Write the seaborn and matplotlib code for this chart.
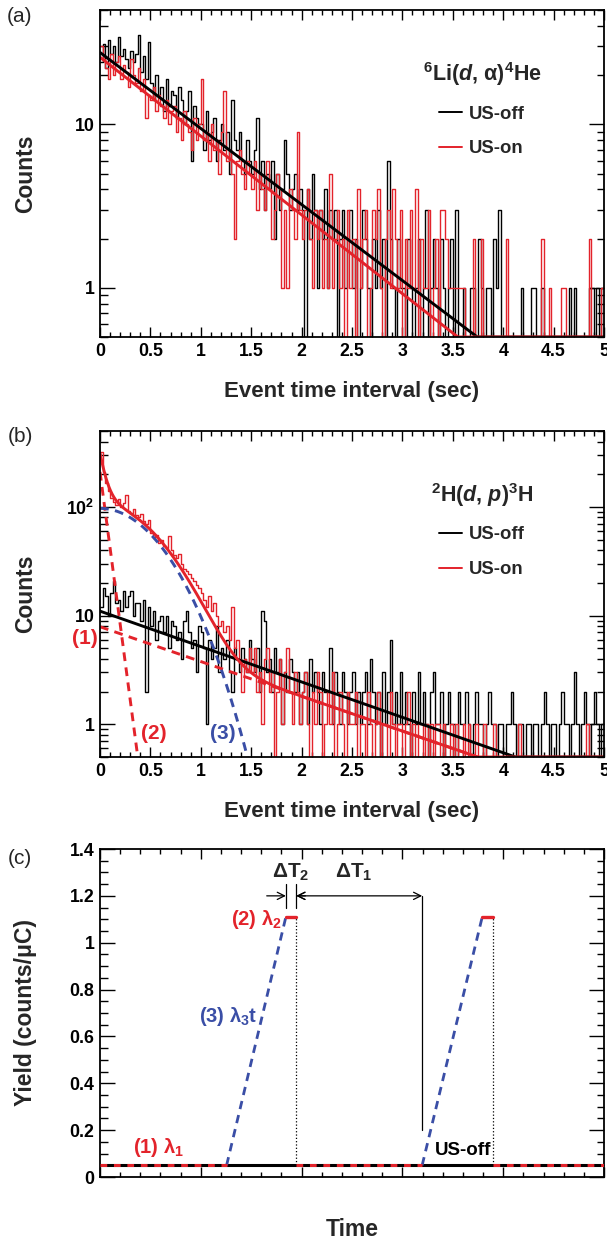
import numpy as np
import pandas as pd
import matplotlib
matplotlib.use("Agg")
import matplotlib.pyplot as plt
import seaborn as sns
from matplotlib.lines import Line2D
from matplotlib.ticker import MultipleLocator, LogLocator, FuncFormatter, NullFormatter

# ---------------- data ----------------
bin_width = 0.025
bin_edges = [round(i * bin_width, 4) for i in range(201)]

# panel (a) 6Li(d,alpha)4He, counts per bin
a_off = [
    24, 31, 22, 33, 27, 30, 24, 34, 26, 29, 25, 22, 28, 24, 27, 35, 21, 26, 19, 32,
    18, 14, 20, 15, 17, 12, 19, 13, 16, 15, 11, 17, 14, 10, 12, 16, 6, 13, 11, 10,
    10, 7, 12, 8, 9, 11, 6, 8, 10, 7, 9, 5, 14, 8, 7, 9, 6, 5, 8, 6,
    5, 7, 11, 4, 6, 3, 5, 4, 6, 2, 5, 3, 4, 8, 5, 3, 4, 5, 3, 4,
    3, 0, 4, 2, 5, 3, 1, 3, 2, 4, 1, 3, 2, 3, 0, 2, 3, 1, 2, 3,
    1, 2, 0, 1, 3, 2, 1, 0, 2, 1, 3, 1, 2, 0, 6, 2, 1, 0, 2, 1,
    1, 0, 2, 1, 0, 1, 2, 0, 1, 3, 0, 1, 2, 1, 0, 2, 1, 0, 1, 2,
    0, 3, 0, 0, 1, 0, 0, 1, 1, 0, 2, 1, 0, 1, 1, 0, 2, 1, 3, 0,
    0, 0, 0, 0, 0, 0, 0, 1, 0, 0, 0, 1, 1, 0, 0, 1, 0, 0, 0, 0,
    0, 0, 0, 0, 0, 0, 1, 0, 1, 0, 0, 0, 0, 0, 1, 1, 0, 1, 0, 1,
]
a_on = [
    30, 25, 22, 19, 27, 20, 24, 26, 19, 23, 21, 17, 25, 20, 18, 22, 16, 19, 11, 15,
    14, 17, 12, 15, 13, 11, 14, 10, 12, 13, 9, 11, 8, 12, 10, 9, 7, 11, 8, 10,
    19, 8, 9, 6, 10, 7, 8, 5, 9, 16, 6, 7, 5, 2, 6, 7, 5, 4, 6, 5,
    4, 6, 3, 5, 4, 3, 6, 4, 2, 3, 5, 4, 1, 3, 1, 4, 3, 2, 9, 3,
    2, 3, 4, 2, 1, 3, 2, 3, 1, 2, 1, 5, 1, 2, 3, 1, 2, 0, 3, 1,
    2, 0, 4, 1, 2, 3, 0, 1, 3, 2, 4, 1, 0, 2, 3, 1, 4, 2, 1, 3,
    0, 2, 1, 3, 1, 4, 0, 2, 1, 1, 3, 0, 1, 2, 0, 3, 3, 2, 1, 1,
    1, 1, 1, 1, 1, 0, 0, 0, 2, 0, 0, 2, 0, 0, 0, 0, 0, 0, 0, 0,
    0, 2, 0, 0, 0, 0, 0, 0, 0, 0, 0, 0, 0, 0, 0, 2, 0, 0, 1, 0,
    0, 0, 0, 1, 1, 0, 0, 0, 0, 0, 0, 0, 0, 0, 2, 0, 0, 0, 0, 1,
]
# panel (b) 2H(d,p)3H
b_off = [
    12, 18, 15, 10, 16, 21, 13, 14, 11, 17, 12, 15, 17, 10, 13, 13, 9, 14, 2, 12,
    8, 11, 6, 9, 10, 7, 10, 5, 9, 8, 6, 7, 4, 9, 11, 7, 5, 6, 3, 8,
    7, 5, 1, 6, 4, 5, 8, 3, 5, 4, 6, 3, 2, 5, 4, 3, 5, 4, 3, 6,
    4, 3, 5, 2, 11, 9, 3, 4, 2, 5, 3, 4, 1, 3, 2, 4, 3, 2, 3, 1,
    2, 3, 1, 4, 2, 3, 2, 1, 3, 2, 2, 5, 1, 3, 2, 1, 3, 2, 1, 2,
    3, 1, 2, 1, 2, 3, 1, 4, 2, 1, 2, 0, 3, 1, 2, 6, 1, 2, 1, 3,
    1, 2, 1, 0, 2, 1, 3, 1, 2, 1, 0, 2, 3, 1, 1, 2, 0, 1, 2, 1,
    1, 0, 2, 1, 1, 2, 1, 0, 1, 2, 1, 1, 0, 1, 2, 1, 1, 0, 1, 1,
    0, 1, 1, 2, 1, 0, 1, 1, 0, 1, 1, 0, 1, 1, 0, 1, 2, 1, 0, 1,
    1, 0, 1, 2, 1, 1, 0, 1, 3, 1, 0, 1, 2, 1, 0, 1, 2, 1, 0, 1,
]
b_on = [
    320, 210, 165, 140, 122, 112, 105, 118, 100, 108, 128, 92, 88, 96, 84, 80, 86, 74, 70, 76,
    58, 52, 55, 47, 50, 44, 42, 54, 40, 36, 34, 37, 30, 27, 26, 24, 22, 21, 19, 18,
    16, 14, 12, 15, 11, 13, 10, 8, 9, 7, 8, 6, 12, 5, 6, 4, 2, 4, 3, 5,
    3, 5, 2, 3, 1, 4, 5, 2, 3, 0, 2, 4, 1, 3, 5, 2, 1, 3, 2, 1,
    2, 3, 1, 0, 2, 1, 3, 2, 0, 1, 2, 1, 3, 0, 1, 2, 1, 0, 2, 1,
    1, 2, 0, 1, 1, 0, 2, 1, 0, 1, 2, 0, 1, 1, 0, 2, 1, 0, 1, 1,
    0, 1, 2, 0, 1, 0, 1, 1, 0, 1, 0, 1, 0, 1, 1, 0, 1, 0, 0, 1,
    0, 1, 0, 0, 1, 0, 1, 0, 0, 1, 0, 0, 1, 0, 0, 0, 1, 0, 0, 0,
    0, 0, 0, 0, 0, 0, 1, 0, 0, 0, 0, 0, 0, 0, 0, 0, 0, 0, 0, 0,
    0, 0, 0, 0, 0, 0, 0, 0, 0, 0, 0, 0, 0, 1, 0, 0, 0, 0, 0, 0,
]

# fitted exponentials: amplitude, decay (decades per second)
fit_a_off = [27.5, 0.465]
fit_a_on = [25.7, 0.482]
fit_b_off = [11.0, 0.326]
fit_b_comp1 = [7.9, 0.32]            # (1) slow exponential
fit_b_comp2 = [210.0, 7.0]           # (2) fast exponential
fit_b_comp3 = [97.0, 0.93, 0.065]    # (3) amplitude, t^2 and t^4 coefficients (decades)

# panel (c) schematic
c_levels = [0.05, 1.11]           # background, peak yield
c_on_start = [1.256, 3.196]
c_on_end = [1.844, 3.792]
c_off = [1.948, 3.896]
c_xrange = [0.0, 5.0]

# ---------------- style ----------------
sns.set_theme(style="ticks")
plt.rcParams.update({
    "font.family": ["Liberation Sans", "DejaVu Sans"],
    "font.weight": "bold",
    "mathtext.fontset": "custom",
    "mathtext.rm": "Liberation Sans:bold",
    "mathtext.it": "Liberation Sans:bold:italic",
    "mathtext.bf": "Liberation Sans:bold",
    "axes.linewidth": 1.3,
    "axes.edgecolor": "black",
})

RED = "#e3232b"
BLUE = "#3a4ea6"
HIST_LW = 1.0
FIT_LW = 2.1

fig = plt.figure(figsize=(6.07, 12.43), dpi=100)
W, H = 607.0, 1243.0
ax_a = fig.add_axes([100 / W, 1 - 337 / H, 504 / W, 327 / H])
ax_b = fig.add_axes([100 / W, 1 - 757 / H, 504 / W, 326 / H])
ax_c = fig.add_axes([100 / W, 1 - 1177 / H, 504 / W, 328 / H])

edges_arr = np.array(bin_edges)
centers = (edges_arr[:-1] + edges_arr[1:]) / 2
t = np.linspace(0, 5, 1001)
YMIN = 0.5


def expo(p, x):
    return p[0] * 10 ** (-p[1] * x)


def style_axes(ax):
    ax.tick_params(which="both", direction="in", top=True, right=True,
                   width=1.0, colors="black", labelsize=12.8, pad=4)
    ax.tick_params(axis="x", which="major", length=7.0)
    ax.tick_params(axis="x", which="minor", length=3.5)
    ax.tick_params(axis="y", which="major", length=10.8)
    ax.tick_params(axis="y", which="minor", length=5.4)
    for s in ax.spines.values():
        s.set_visible(True)
        s.set_linewidth(1.3)


def log_fmt(v, pos):
    d = {1: "1", 10: "10", 100: "10$^{2}$", 1000: "10$^{3}$"}
    r = int(round(v))
    if abs(v - r) < 1e-6 and r in d:
        return d[r]
    return ""


def time_axes(ax):
    ax.set_xlim(0, 5)
    ax.xaxis.set_major_locator(MultipleLocator(0.5))
    ax.xaxis.set_minor_locator(MultipleLocator(0.1))
    ax.xaxis.set_major_formatter(FuncFormatter(lambda v, p: f"{v:g}"))
    ax.set_yscale("log")
    ax.yaxis.set_major_locator(LogLocator(base=10))
    ax.yaxis.set_minor_locator(LogLocator(base=10, subs=np.arange(2, 10)))
    ax.yaxis.set_major_formatter(FuncFormatter(log_fmt))
    ax.yaxis.set_minor_formatter(NullFormatter())
    ax.set_xlabel("Event time interval (sec)", fontsize=16, fontweight="bold")
    ax.set_ylabel("Counts", fontsize=16.5, fontweight="bold")
    ax.xaxis.set_label_coords(0.5, -0.135)
    ax.yaxis.set_label_coords(-0.125, 0.5)
    style_axes(ax)


def draw_hist(ax, counts, color):
    df = pd.DataFrame({"t": centers, "n": np.asarray(counts, float)})
    sns.histplot(data=df, x="t", weights="n", bins=bin_edges,
                 element="step", fill=False, color=color, linewidth=HIST_LW, ax=ax)


def legend(ax, title):
    handles = [Line2D([], [], color="black", lw=1.4), Line2D([], [], color=RED, lw=1.4)]
    ax.legend(handles, ["US-off", "US-on"], title=title, loc="upper center",
              bbox_to_anchor=(0.758, 0.875), frameon=False, fontsize=13.3,
              title_fontproperties={"weight": "bold", "size": 15.5},
              handlelength=1.25, handletextpad=0.4, labelspacing=0.95, borderpad=0)


# ---------------- panel (a) ----------------
draw_hist(ax_a, a_off, "black")
draw_hist(ax_a, a_on, RED)
sns.lineplot(x=t, y=np.clip(expo(fit_a_off, t), YMIN, None), color="black", lw=FIT_LW, ax=ax_a)
sns.lineplot(x=t, y=np.clip(expo(fit_a_on, t), YMIN, None), color=RED, lw=FIT_LW, ax=ax_a)
time_axes(ax_a)
ax_a.set_ylim(0.5, 50)
legend(ax_a, r"$^{6}$Li($d$, α)$^{4}$He")

# ---------------- panel (b) ----------------
draw_hist(ax_b, b_off, "black")
draw_hist(ax_b, b_on, RED)
comp1 = expo(fit_b_comp1, t)
comp2 = expo(fit_b_comp2, t)
comp3 = fit_b_comp3[0] * 10 ** (-(fit_b_comp3[1] * t ** 2 + fit_b_comp3[2] * t ** 4))
dash = (0, (3.0, 2.2))
sns.lineplot(x=t, y=comp1, color=RED, lw=FIT_LW, linestyle=dash, ax=ax_b)
sns.lineplot(x=t, y=comp2, color=RED, lw=FIT_LW, linestyle=dash, ax=ax_b)
sns.lineplot(x=t, y=comp3, color=BLUE, lw=FIT_LW, linestyle=dash, ax=ax_b)
sns.lineplot(x=t, y=np.clip(expo(fit_b_off, t), YMIN, None), color="black", lw=FIT_LW, ax=ax_b)
sns.lineplot(x=t, y=np.clip(comp1 + comp2 + comp3, YMIN, None), color=RED, lw=FIT_LW, ax=ax_b)
time_axes(ax_b)
ax_b.set_ylim(0.5, 500)
legend(ax_b, r"$^{2}$H($d$, $p$)$^{3}$H")
ax_b.text(-0.15, 6.2, "(1)", color=RED, fontsize=15, ha="center", va="center", clip_on=False)
ax_b.text(0.53, 0.83, "(2)", color=RED, fontsize=15, ha="center", va="center")
ax_b.text(1.22, 0.83, "(3)", color=BLUE, fontsize=15, ha="center", va="center")

# ---------------- panel (c) ----------------
base, peak = c_levels
ax_c.axhline(base, color="black", lw=2.2, zorder=2)
seg_starts = [c_xrange[0]] + c_off
seg_ends = c_on_start + [c_xrange[1]]
for s, e in zip(seg_starts, seg_ends):
    sns.lineplot(x=[s, e], y=[base, base], color=RED, lw=2.2, linestyle=(0, (2.2, 2.2)), ax=ax_c, zorder=3)
for s, e, o in zip(c_on_start, c_on_end, c_off):
    sns.lineplot(x=[s, e], y=[base, peak], color=BLUE, lw=2.0, linestyle=(0, (3.0, 2.2)), ax=ax_c)
    sns.lineplot(x=[e, o], y=[peak, peak], color=RED, lw=2.4, ax=ax_c)
    ax_c.plot([o, o], [base, peak], color="black", lw=0.9, linestyle=":")
ax_c.plot([c_on_start[1]] * 2, [0.2, 1.2], color="black", lw=0.9)
for xv in (c_on_end[0], c_off[0]):
    ax_c.plot([xv, xv], [1.15, 1.25], color="black", lw=0.9)
ap = dict(arrowstyle="->", lw=0.9, color="black", mutation_scale=13, shrinkA=0, shrinkB=0)
ax_c.annotate("", xy=(c_on_end[0], 1.2), xytext=(c_on_end[0] - 0.19, 1.2), arrowprops=ap)
ax_c.annotate("", xy=(c_off[0], 1.2), xytext=(c_off[0] + 0.09, 1.2), arrowprops=ap)
ap2 = dict(ap, arrowstyle="<->")
ax_c.annotate("", xy=(c_off[0], 1.2), xytext=(c_on_start[1], 1.2), arrowprops=ap2)
ax_c.text((c_on_end[0] + c_off[0]) / 2, 1.30, "ΔT$_2$", fontsize=15, ha="center", va="center")
ax_c.text(2.52, 1.30, "ΔT$_1$", fontsize=15, ha="center", va="center")
ax_c.text(c_on_end[0] - 0.04, 1.10, "(2) λ$_2$", color=RED, fontsize=14.5, ha="right", va="center")
ax_c.text(1.27, 0.685, "(3) λ$_3$t", color=BLUE, fontsize=14.5, ha="center", va="center")
ax_c.text(0.58, 0.125, "(1) λ$_1$", color=RED, fontsize=14.5, ha="center", va="center")
ax_c.text(3.6, 0.115, "US-off", color="black", fontsize=13.5, ha="center", va="center")

ax_c.set_xlim(*c_xrange)
ax_c.set_ylim(0, 1.4)
ax_c.xaxis.set_major_locator(MultipleLocator(1))
ax_c.xaxis.set_minor_locator(MultipleLocator(0.2))
ax_c.xaxis.set_major_formatter(NullFormatter())
ax_c.yaxis.set_major_locator(MultipleLocator(0.2))
ax_c.yaxis.set_minor_locator(MultipleLocator(0.05))
ax_c.yaxis.set_major_formatter(FuncFormatter(lambda v, p: f"{v:g}"))
ax_c.set_xlabel("Time", fontsize=16.5, fontweight="bold")
ax_c.set_ylabel("Yield (counts/μC)", fontsize=16.5, fontweight="bold")
ax_c.xaxis.set_label_coords(0.5, -0.125)
ax_c.yaxis.set_label_coords(-0.125, 0.5)
style_axes(ax_c)

for lab, yy in (("(a)", 17), ("(b)", 437), ("(c)", 859)):
    fig.text(20 / W, 1 - yy / H, lab, fontsize=15, fontweight="normal", ha="center", va="center")

fig.savefig("out.png", dpi=100)
